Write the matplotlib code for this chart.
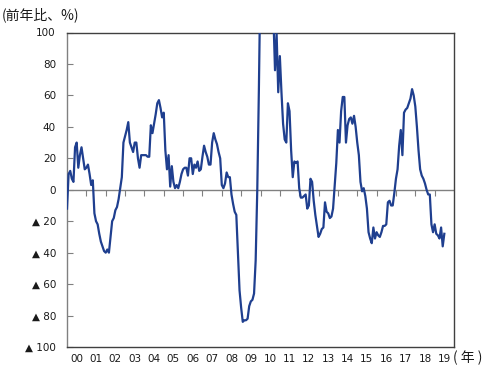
import matplotlib
matplotlib.use("Agg")
import matplotlib.pyplot as plt
import numpy as np

# Monthly year-on-year change (%), Jan 2000 - Jul 2019
v2000 = [-12, 10, 12, 7, 5, 27, 30, 14, 22, 27, 20, 13]
v2001 = [14, 16, 10, 3, 6, -15, -20, -22, -28, -33, -36, -39]
v2002 = [-40, -38, -40, -30, -20, -18, -13, -11, -6, 1, 8, 30]
v2003 = [34, 38, 43, 30, 27, 24, 30, 30, 20, 14, 22, 22]
v2004 = [22, 22, 21, 21, 41, 36, 42, 48, 55, 57, 52, 46]
v2005 = [49, 25, 13, 22, 2, 15, 5, 1, 3, 1, 5, 10]
v2006 = [13, 14, 14, 9, 20, 20, 10, 16, 14, 18, 12, 13]
v2007 = [21, 28, 24, 21, 16, 16, 30, 36, 32, 29, 24, 20]
v2008 = [3, 1, 4, 11, 8, 8, -3, -9, -14, -16, -40, -64]
v2009 = [-75, -84, -83, -83, -82, -74, -71, -70, -66, -45, 0, 64]
v2010 = [140, 175, 190, 200, 185, 165, 150, 130, 110, 76, 99, 62]
v2011 = [85, 62, 42, 32, 30, 55, 50, 25, 8, 18, 17, 18]
v2012 = [1, -5, -5, -4, -3, -12, -10, 7, 5, -7, -16, -23]
v2013 = [-30, -28, -25, -24, -8, -14, -15, -18, -17, -12, 3, 17]
v2014 = [38, 30, 50, 59, 59, 30, 41, 45, 46, 42, 47, 40]
v2015 = [30, 22, 5, -1, 1, -4, -12, -27, -31, -34, -24, -31]
v2016 = [-27, -29, -30, -27, -23, -23, -22, -8, -7, -10, -10, -2]
v2017 = [7, 13, 28, 38, 22, 49, 51, 52, 55, 58, 64, 60]
v2018 = [53, 40, 25, 13, 9, 7, 4, 0, -3, -3, -22, -27]
v2019 = [-22, -28, -29, -31, -24, -36, -28]

values = (v2000 + v2001 + v2002 + v2003 + v2004 + v2005 + v2006 + v2007 +
          v2008 + v2009 + v2010 + v2011 + v2012 + v2013 + v2014 + v2015 +
          v2016 + v2017 + v2018 + v2019)
start_year = 2000
year_labels = ["00", "01", "02", "03", "04", "05", "06", "07", "08", "09",
               "10", "11", "12", "13", "14", "15", "16", "17", "18", "19"]
y_ticks = [-100, -80, -60, -40, -20, 0, 20, 40, 60, 80, 100]
y_labels = ["▲ 100", "▲ 80", "▲ 60", "▲ 40", "▲ 20", "0", "20", "40", "60", "80", "100"]

x = start_year + np.arange(len(values)) / 12.0

fig = plt.figure(figsize=(4.86, 3.70), dpi=100)
ax = fig.add_axes([67/486, 23/370, (454-67)/486, (347-32.5)/370])

ax.plot(x, values, color="#1f3f8f", lw=1.6, clip_on=True, zorder=3)
ax.set_xlim(start_year, start_year + len(year_labels))
ax.set_ylim(-100, 100)

# zero line with year-boundary ticks
ax.axhline(0, color="#808080", lw=1.0, zorder=2)
sec = ax.secondary_xaxis(0.5)
sec.set_xticks(np.arange(start_year + 1, start_year + len(year_labels)))
sec.tick_params(axis="x", direction="in", length=4, width=0.8, color="#808080",
                labelbottom=False, labeltop=False)
sec.spines["bottom"].set_visible(False)
sec.spines["top"].set_visible(False)

ax.set_xticks(start_year + 0.5 + np.arange(len(year_labels)))
ax.set_xticklabels(year_labels)
ax.tick_params(axis="x", length=0, pad=5, labelsize=7.5, labelcolor="#1a1a1a")

ax.set_yticks(y_ticks)
ax.set_yticklabels(y_labels)
ax.tick_params(axis="y", direction="in", length=4, width=0.8, color="#808080",
               pad=8, labelsize=7.5, labelcolor="#1a1a1a")

for s in ["top", "right", "bottom"]:
    ax.spines[s].set_color("#404040")
    ax.spines[s].set_linewidth(1.0)
ax.spines["left"].set_color("#808080")
ax.spines["left"].set_linewidth(1.0)

cjk = ["Noto Sans CJK JP", "DejaVu Sans"]
fig.text(2/486, 1 - 15/370, "(前年比、%)", family=cjk, fontsize=10,
         va="center", ha="left", color="#1a1a1a")
fig.text(468/486, 1 - 358/370, "( 年 )", family=cjk, fontsize=10,
         va="center", ha="center", color="#1a1a1a")

fig.savefig("out.png", dpi=100)
